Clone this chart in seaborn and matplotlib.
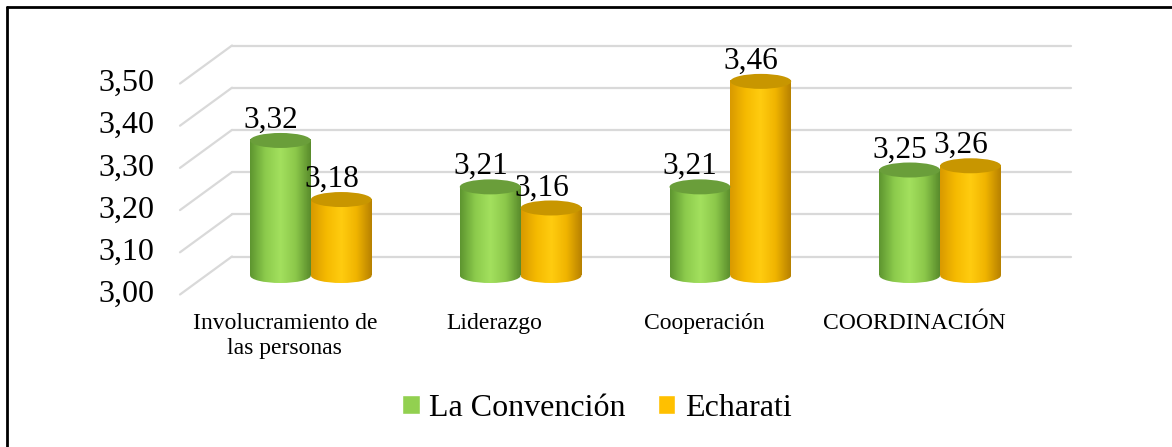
import numpy as np
import pandas as pd
import matplotlib
matplotlib.use('Agg')
import matplotlib.pyplot as plt
import matplotlib.transforms as mtransforms
from matplotlib.patches import Ellipse, Patch
from matplotlib.lines import Line2D
from matplotlib.colors import LinearSegmentedColormap
import seaborn as sns

# data
categories = ['Involucramiento de\nlas personas', 'Liderazgo', 'Cooperación', 'COORDINACIÓN']
la_convencion = [3.32, 3.21, 3.21, 3.25]
echarati = [3.18, 3.16, 3.46, 3.26]
series_names = ['La Convención', 'Echarati']
yticks = [3.00, 3.10, 3.20, 3.30, 3.40, 3.50]

df = pd.DataFrame({
    'cat': categories * 2,
    'serie': [series_names[0]] * 4 + [series_names[1]] * 4,
    'valor': la_convencion + echarati,
})

sns.set_style('white')
plt.rcParams['font.family'] = ['Liberation Serif', 'DejaVu Serif']
plt.rcParams['text.color'] = 'black'

W, H = 1172, 447
fig = plt.figure(figsize=(W / 100, H / 100), dpi=100)

# mid depth plane of the 3d chart: 3.00 at y=275.5px, 0.1 per 42.2px
y0, y1 = 2.95, 3.60
ppu = 422.0
px_bot = 275.5 + (3.0 - y0) * ppu
px_top = 275.5 - (y1 - 3.0) * ppu
left, right = 206, 1045
ax = fig.add_axes([left / W, 1 - px_bot / H, (right - left) / W, (px_bot - px_top) / H])

palette = {'La Convención': '#92D050', 'Echarati': '#FFC000'}
sns.barplot(data=df, x='cat', y='valor', hue='serie', palette=palette, saturation=1,
            width=0.58, gap=0, legend=False, ax=ax, zorder=3)
ax.set_ylim(y0, y1)
ax.set_xlim(-0.5, 3.5)
for s in ax.spines.values():
    s.set_visible(False)
ax.set_xticks([])
ax.set_yticks([])
ax.set_xlabel('')
ax.set_ylabel('')

# perspective offsets (px) for back wall / front edge
dx_ax = 26 / (right - left)
dy = 19 / ppu
blend = mtransforms.blended_transform_factory(ax.transAxes, ax.transData)
for v in yticks:
    ax.add_line(Line2D([-dx_ax, dx_ax], [v - dy, v + dy], transform=blend,
                       color='#D9D9D9', lw=1.6, clip_on=False, zorder=1))
    ax.add_line(Line2D([dx_ax, 1 + dx_ax], [v + dy, v + dy], transform=blend,
                       color='#D9D9D9', lw=1.6, clip_on=False, zorder=1))
    ax.text(-dx_ax - 26 / (right - left), v - dy, f'{v:.2f}'.replace('.', ','),
            transform=blend, ha='right', va='center', fontsize=23, clip_on=False)

# category labels under the front edge
for i, c in enumerate(categories):
    ax.text(i - 26 / ((right - left) / 4), 3.0 - 0.089, c, ha='center', va='top',
            fontsize=17, linespacing=1.25, clip_on=False)

# cylinders: gradient body + ellipse caps
grads = [
    (['#5E9630', '#8CCB4C', '#A3E05E', '#8CC84A', '#5A8C2C'], '#6A9E3A'),
    (['#D99A00', '#F5BA00', '#FFCC10', '#F0B400', '#B88200'], '#C89600'),
]
eh = 15 / ppu
grad_img = np.linspace(0, 1, 100).reshape(1, -1)
values = la_convencion + echarati
for k, (p, val) in enumerate(zip(ax.patches, values)):
    stops, top_c = grads[k // len(categories)]
    cmap = LinearSegmentedColormap.from_list('g', stops)
    x = p.get_x()
    w = p.get_width()
    p.set_y(3.0)
    p.set_height(val - 3.0)
    p.set_facecolor('none')
    p.set_edgecolor('none')
    # body
    ax.imshow(grad_img, cmap=cmap, aspect='auto', extent=(x, x + w, 3.0, val),
              zorder=3, interpolation='bilinear')
    # bottom ellipse
    bot = Ellipse((x + w / 2, 3.0), w, eh, facecolor='none', edgecolor='none')
    ax.add_patch(bot)
    im2 = ax.imshow(grad_img, cmap=cmap, aspect='auto',
                    extent=(x, x + w, 3.0 - eh / 2, 3.0), zorder=3,
                    interpolation='bilinear')
    im2.set_clip_path(bot)
    # top cap
    ax.add_patch(Ellipse((x + w / 2, val), w, eh, facecolor=top_c,
                         edgecolor='none', zorder=4))
    ax.annotate(f'{val:.2f}'.replace('.', ','), (x + w / 2, val),
                xytext=(-7, 14.5), textcoords='offset points',
                ha='center', va='center', fontsize=22.5, zorder=6)

ax.set_xlim(-0.5, 3.5)
ax.set_ylim(y0, y1)

handles = [Patch(facecolor=palette[n], label=n) for n in series_names]
fig.legend(handles=handles, loc='center', bbox_to_anchor=(0.5 + 11 / W, 1 - 408 / H),
           ncol=2, frameon=False, fontsize=23, handlelength=0.55, handleheight=0.55,
           handletextpad=0.3, columnspacing=1.0)

# outer frame (top and left only visible)
fig.add_artist(Line2D([7 / W, 1], [1 - 7 / H, 1 - 7 / H], transform=fig.transFigure,
                      color='black', lw=2))
fig.add_artist(Line2D([7 / W, 7 / W], [0, 1 - 7 / H], transform=fig.transFigure,
                      color='black', lw=2))

fig.savefig('out.png', dpi=100)
